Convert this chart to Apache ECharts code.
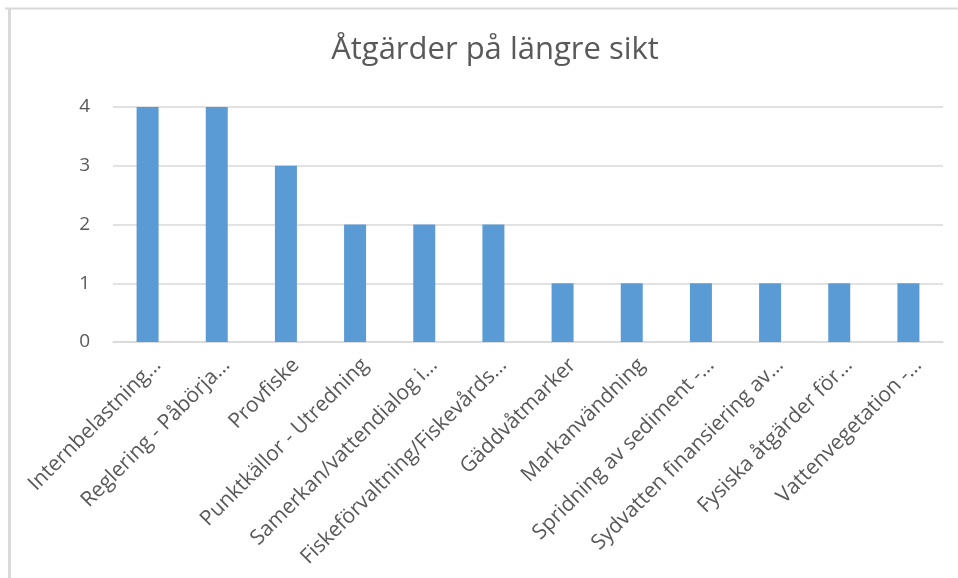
<!DOCTYPE html>
<html>
<head>
<meta charset="utf-8">
<script src="https://cdn.jsdelivr.net/npm/echarts@6/dist/echarts.min.js"></script>
<style>
html,body{margin:0;padding:0;background:#fff;}
#chart{width:958px;height:578px;}
</style>
</head>
<body>
<div id="chart"></div>
<script>
const titleText = 'Åtgärder på längre sikt';
const categories = [
  'Internbelastning…',
  'Reglering - Påbörja…',
  'Provfiske',
  'Punktkällor - Utredning',
  'Samerkan/vattendialog i…',
  'Fiskeförvaltning/Fiskevårds…',
  'Gäddvåtmarker',
  'Markanvändning',
  'Spridning av sediment -…',
  'Sydvatten finansiering av…',
  'Fysiska åtgärder för…',
  'Vattenvegetation -…'
];
const values = [4, 4, 3, 2, 2, 2, 1, 1, 1, 1, 1, 1];
const yTicks = [0, 1, 2, 3, 4];

const chart = echarts.init(document.getElementById('chart'), null, {renderer: 'canvas'});
chart.setOption({
  backgroundColor: '#ffffff',
  animation: false,
  title: {
    text: titleText,
    left: 490,
    top: 30,
    textAlign: 'center',
    textStyle: {fontFamily: 'Open Sans', fontSize: 31, fontWeight: 'normal', color: '#595959'}
  },
  graphic: [
    {type: 'line', shape: {x1: 5, y1: 8.5, x2: 958, y2: 8.5}, style: {stroke: '#d9d9d9', lineWidth: 2}},
    {type: 'line', shape: {x1: 9.5, y1: 8, x2: 9.5, y2: 578}, style: {stroke: '#d9d9d9', lineWidth: 3}}
  ],
  grid: {left: 113, right: 15, top: 107, bottom: 236, containLabel: false},
  xAxis: {
    type: 'category',
    data: categories,
    axisLine: {show: true, lineStyle: {color: '#d9d9d9', width: 1.5}},
    axisTick: {show: false},
    axisLabel: {
      interval: 0,
      rotate: 45,
      margin: 10,
      formatter: function (v) { return '{a|' + v + '}'; },
      rich: {a: {fontFamily: 'Open Sans', fontSize: 21, color: '#595959', padding: [28, 0, 0, 0]}},
      fontFamily: 'Open Sans',
      fontSize: 21,
      color: '#595959'
    }
  },
  yAxis: {
    type: 'value',
    min: yTicks[0],
    max: yTicks[yTicks.length - 1],
    interval: 1,
    axisLine: {show: false},
    axisTick: {show: false},
    splitLine: {lineStyle: {color: '#d9d9d9', width: 1.5}},
    axisLabel: {margin: 23, fontFamily: 'Open Sans', fontSize: 19, color: '#595959'}
  },
  series: [{
    type: 'bar',
    data: values,
    barWidth: 22,
    itemStyle: {color: '#5b9bd5'}
  }]
});
</script>
</body>
</html>
